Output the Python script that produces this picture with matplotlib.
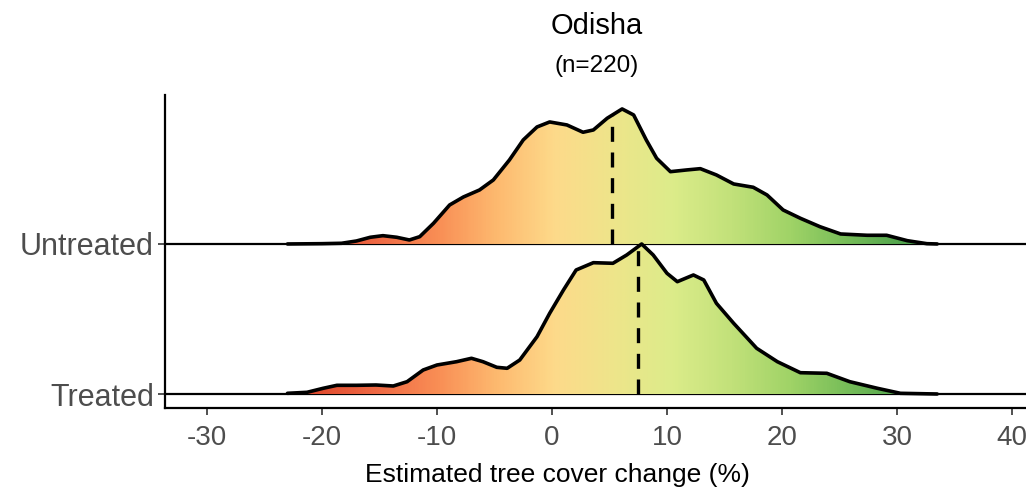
import numpy as np
import matplotlib
matplotlib.use("Agg")
import matplotlib.pyplot as plt
from matplotlib.colors import LinearSegmentedColormap

plt.rcParams['font.family'] = ['Liberation Sans', 'DejaVu Sans']

# ridge order from bottom to top
groups = ['Treated', 'Untreated']

# density curves (x = tree cover change %, y = ridge height, px of 150 per row)
untreated_x = [-23.0, -20.0, -18.3, -17.0, -15.8, -14.7, -13.5, -12.4, -11.5, -10.3,
               -8.9, -7.7, -6.3, -5.1, -3.7, -2.5, -1.3, -0.2, 1.3, 2.7, 3.6,
               4.8, 6.1, 7.1, 8.2, 9.1, 10.3, 11.7, 12.9, 14.3, 15.8, 17.5,
               18.7, 20.1, 21.6, 23.3, 25.1, 27.4, 29.1, 30.9, 32.6, 33.5]
untreated_h = [0, 0.3, 0.7, 3, 6.7, 8.3, 6.7, 4, 7.3, 20.7,
               39, 47, 54, 64, 84, 104, 117, 122, 119, 111.7, 114,
               125.7, 135, 129, 104, 85.7, 72.3, 74, 75.3, 69, 60, 56.7,
               49, 34, 25.7, 17.3, 10, 8.7, 8.7, 3.3, 0.3, 0]

treated_x = [-23.0, -21.3, -19.9, -18.7, -17.0, -15.3, -13.8, -12.6, -11.2, -10.0,
             -8.3, -7.0, -6.0, -4.8, -3.9, -2.8, -1.3, -0.2, 1.0, 2.1, 3.6,
             5.3, 6.5, 7.8, 8.8, 10.0, 10.9, 12.3, 13.2, 14.3, 15.8, 17.8,
             19.6, 21.6, 23.9, 25.9, 28.3, 30.3, 33.5]
treated_h = [0.7, 1.7, 5.7, 8.7, 8.7, 9, 8, 12.3, 24, 29,
             32.3, 35.7, 32.3, 26.7, 25.7, 34, 57.3, 80.7, 104, 124, 131.3,
             130.7, 139, 150, 139, 120.7, 112.3, 119, 114, 90.7, 70.7, 45.7,
             32.3, 21.3, 20.7, 12.3, 5.7, 0.7, 0]

medians = [7.5, 5.2]   # Treated, Untreated

xticks = [-30, -20, -10, 0, 10, 20, 30, 40]

curves = [(treated_x, treated_h), (untreated_x, untreated_h)]

cmap = LinearSegmentedColormap.from_list('tc', [
    (0.00, '#dc4329'), (0.12, '#ef6a45'), (0.21, '#f98e55'), (0.30, '#fdb96f'),
    (0.39, '#fdda8a'), (0.48, '#eee58a'), (0.57, '#dcec8a'), (0.66, '#c2e17a'),
    (0.75, '#a0d367'), (0.84, '#75bc58'), (0.93, '#4ea24c'), (1.00, '#2a8a40')])
cmin, cmax = -22, 35

fig = plt.figure(figsize=(10.26, 4.95), dpi=100)
ax = fig.add_axes([165 / 1026, 87 / 495, 861 / 1026, 313 / 495])

grad = np.linspace(cmin, cmax, 600).reshape(1, -1)

for i, (xs, hs) in enumerate(curves):
    xs = np.array(xs)
    ys = i + np.array(hs) / 150.0
    ax.axhline(i, color='black', lw=1.6, zorder=1)
    poly = ax.fill_between(xs, i, ys, facecolor='none', edgecolor='none')
    img = ax.imshow(grad, cmap=cmap, aspect='auto', extent=[cmin, cmax, i, i + 1.1],
                    origin='lower', zorder=2, interpolation='bilinear')
    img.set_clip_path(poly.get_paths()[0], transform=ax.transData)
    ax.plot(xs, ys, color='black', lw=2.6, zorder=4,
            solid_joinstyle='round', solid_capstyle='round')
    top = i + np.interp(medians[i], xs, hs) / 150.0
    ax.plot([medians[i], medians[i]], [i, top], color='black', lw=2.4,
            dashes=(4.5, 3.2), zorder=3)

ax.set_xlim(-33.65, 41.22)
ax.set_ylim(-0.0933, 1.993)

for s in ['top', 'right']:
    ax.spines[s].set_visible(False)
for s in ['left', 'bottom']:
    ax.spines[s].set_linewidth(1.6)
    ax.spines[s].set_color('black')

ax.set_xticks(xticks)
ax.set_xticklabels([str(t) for t in xticks])
ax.set_yticks([0, 1])
ax.set_yticklabels(groups)
ax.tick_params(axis='x', length=5, width=1.2, color='#333333', labelsize=20,
               labelcolor='#4d4d4d', pad=7)
ax.tick_params(axis='y', length=5, width=1.2, color='#333333', labelsize=22,
               labelcolor='#4d4d4d', pad=3)

fig.text(557 / 1026, 1 - 482 / 495, 'Estimated tree cover change (%)',
         ha='center', va='baseline', fontsize=19, color='black')
fig.text(597 / 1026, 1 - 34 / 495, 'Odisha', ha='center', va='baseline',
         fontsize=21, color='black')
fig.text(597 / 1026, 1 - 72 / 495, '(n=220)', ha='center', va='baseline',
         fontsize=17.5, color='black')

fig.savefig('out.png', dpi=100)
